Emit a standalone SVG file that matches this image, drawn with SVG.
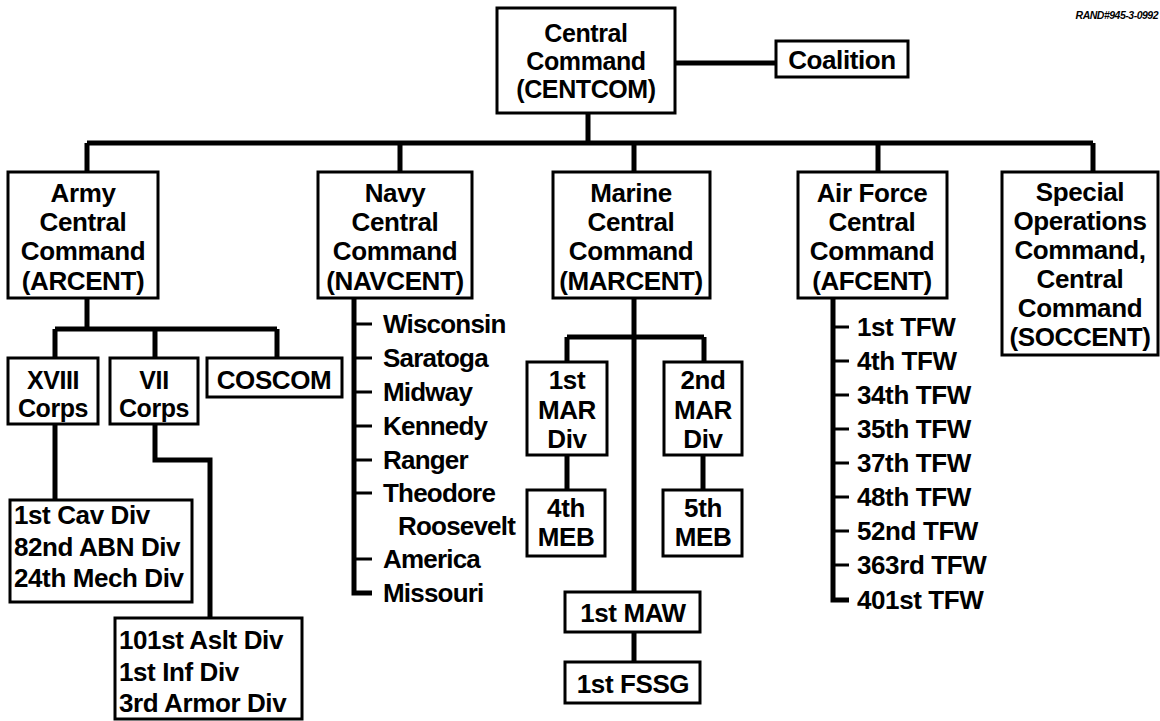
<svg xmlns="http://www.w3.org/2000/svg" width="1160" height="721" viewBox="0 0 1160 721">
<style>
.b{fill:#fff;stroke:#000;stroke-width:3}
.t{font-family:"Liberation Sans",Arial,sans-serif;font-weight:bold;font-size:26px;fill:#000;letter-spacing:-0.4px}
.s{font-size:25px}
.l{letter-spacing:-0.8px}
.c{text-anchor:middle}
.w{fill:none;stroke:#000;stroke-width:5;stroke-linejoin:miter}
.tk{fill:none;stroke:#000;stroke-width:3}
</style>
<rect width="1160" height="721" fill="#fff"/>
<text x="1158" y="19" text-anchor="end" font-family="Liberation Sans,Arial,sans-serif" font-weight="bold" font-style="italic" font-size="10.5" letter-spacing="-0.5">RAND#945-3-0992</text>
<g id="connectors">
<path class="w" d="M675 63H776"/>
<path class="w" d="M588 113V143M87 143H1093M87 143V172M400 143V172M634 143V172M878 143V172M1093 143V172"/>
<path class="w" d="M87 298V329M55 329H277M55 329V358M155 329V358M277 329V358"/>
<path class="w" d="M55 424V500"/>
<path class="w" d="M155 424V460H210V618"/>
<path class="w" d="M354 298V593H372"/>
<path class="tk" d="M354 324H372M354 358H372M354 392H372M354 426H372M354 460H372M354 493H372M354 559H372"/>
<path class="w" d="M634 298V592M567 337H704M567 337V362M704 337V362M567 455V490M703 455V490M634 632V662"/>
<path class="w" d="M833 298V600H849"/>
<path class="tk" d="M833 327H849M833 361H849M833 395H849M833 429H849M833 463H849M833 497H849M833 531H849M833 565H849"/>
</g>
<g id="centcom"><rect class="b" x="497" y="8" width="178" height="105"/>
<text class="t s c" x="586" y="42">Central</text><text class="t s c" x="586" y="70">Command</text><text class="t s c" x="586" y="98">(CENTCOM)</text></g>
<g id="coalition"><rect class="b" x="776" y="41" width="132" height="36"/><text class="t c" x="842" y="69">Coalition</text></g>
<g id="arcent"><rect class="b" x="8" y="172" width="150" height="126"/>
<text class="t c" x="83" y="202">Army</text><text class="t c" x="83" y="231">Central</text><text class="t c" x="83" y="260">Command</text><text class="t c" x="83" y="290">(ARCENT)</text></g>
<g id="navcent"><rect class="b" x="318" y="172" width="154" height="126"/>
<text class="t c" x="395" y="202">Navy</text><text class="t c" x="395" y="231">Central</text><text class="t c" x="395" y="260">Command</text><text class="t c" x="395" y="290">(NAVCENT)</text></g>
<g id="marcent"><rect class="b" x="553" y="172" width="157" height="126"/>
<text class="t c" x="631" y="202">Marine</text><text class="t c" x="631" y="231">Central</text><text class="t c" x="631" y="260">Command</text><text class="t c" x="631" y="290">(MARCENT)</text></g>
<g id="afcent"><rect class="b" x="798" y="172" width="149" height="126"/>
<text class="t c" x="872" y="202">Air Force</text><text class="t c" x="872" y="231">Central</text><text class="t c" x="872" y="260">Command</text><text class="t c" x="872" y="290">(AFCENT)</text></g>
<g id="soccent"><rect class="b" x="1002" y="172" width="156" height="183"/>
<text class="t c" x="1080" y="201">Special</text><text class="t c" x="1080" y="230">Operations</text><text class="t c" x="1080" y="259">Command,</text><text class="t c" x="1080" y="288">Central</text><text class="t c" x="1080" y="317">Command</text><text class="t c" x="1080" y="346">(SOCCENT)</text></g>
<g id="xviii"><rect class="b" x="8" y="358" width="90" height="66"/><text class="t s c" x="53" y="389">XVIII</text><text class="t s c" x="53" y="417">Corps</text></g>
<g id="vii"><rect class="b" x="110" y="358" width="88" height="66"/><text class="t s c" x="154" y="389">VII</text><text class="t s c" x="154" y="417">Corps</text></g>
<g id="coscom"><rect class="b" x="207" y="358" width="135" height="39"/><text class="t c" x="274" y="389">COSCOM</text></g>
<g id="xviii-divs"><rect class="b" x="10" y="500" width="182" height="102"/>
<text class="t" x="14" y="524">1st Cav Div</text><text class="t" x="14" y="556">82nd ABN Div</text><text class="t" x="14" y="587">24th Mech Div</text></g>
<g id="vii-divs"><rect class="b" x="115" y="618" width="187" height="101"/>
<text class="t" x="119" y="649">101st Aslt Div</text><text class="t" x="119" y="681">1st Inf Div</text><text class="t" x="119" y="712">3rd Armor Div</text></g>
<g id="navy-ships">
<text class="t l" x="383" y="333">Wisconsin</text><text class="t l" x="383" y="367">Saratoga</text><text class="t l" x="383" y="401">Midway</text><text class="t l" x="383" y="435">Kennedy</text><text class="t l" x="383" y="469">Ranger</text><text class="t l" x="383" y="502">Theodore</text><text class="t l" x="398" y="535">Roosevelt</text><text class="t l" x="383" y="568">America</text><text class="t l" x="383" y="602">Missouri</text></g>
<g id="mardiv1"><rect class="b" x="527" y="362" width="80" height="93"/><text class="t c" x="567" y="389">1st</text><text class="t c" x="567" y="419">MAR</text><text class="t c" x="567" y="448">Div</text></g>
<g id="mardiv2"><rect class="b" x="664" y="362" width="78" height="93"/><text class="t c" x="703" y="389">2nd</text><text class="t c" x="703" y="419">MAR</text><text class="t c" x="703" y="448">Div</text></g>
<g id="meb4"><rect class="b" x="527" y="490" width="78" height="66"/><text class="t c" x="566" y="517">4th</text><text class="t c" x="566" y="546">MEB</text></g>
<g id="meb5"><rect class="b" x="663" y="490" width="79" height="66"/><text class="t c" x="703" y="517">5th</text><text class="t c" x="703" y="546">MEB</text></g>
<g id="maw"><rect class="b" x="565" y="592" width="135" height="40"/><text class="t c" x="633" y="622">1st MAW</text></g>
<g id="fssg"><rect class="b" x="565" y="662" width="135" height="41"/><text class="t c" x="633" y="693">1st FSSG</text></g>
<g id="af-wings">
<text class="t" x="857" y="336">1st TFW</text><text class="t" x="857" y="370">4th TFW</text><text class="t" x="857" y="404">34th TFW</text><text class="t" x="857" y="438">35th TFW</text><text class="t" x="857" y="472">37th TFW</text><text class="t" x="857" y="506">48th TFW</text><text class="t" x="857" y="540">52nd TFW</text><text class="t" x="857" y="574">363rd TFW</text><text class="t" x="857" y="609">401st TFW</text></g>
</svg>
